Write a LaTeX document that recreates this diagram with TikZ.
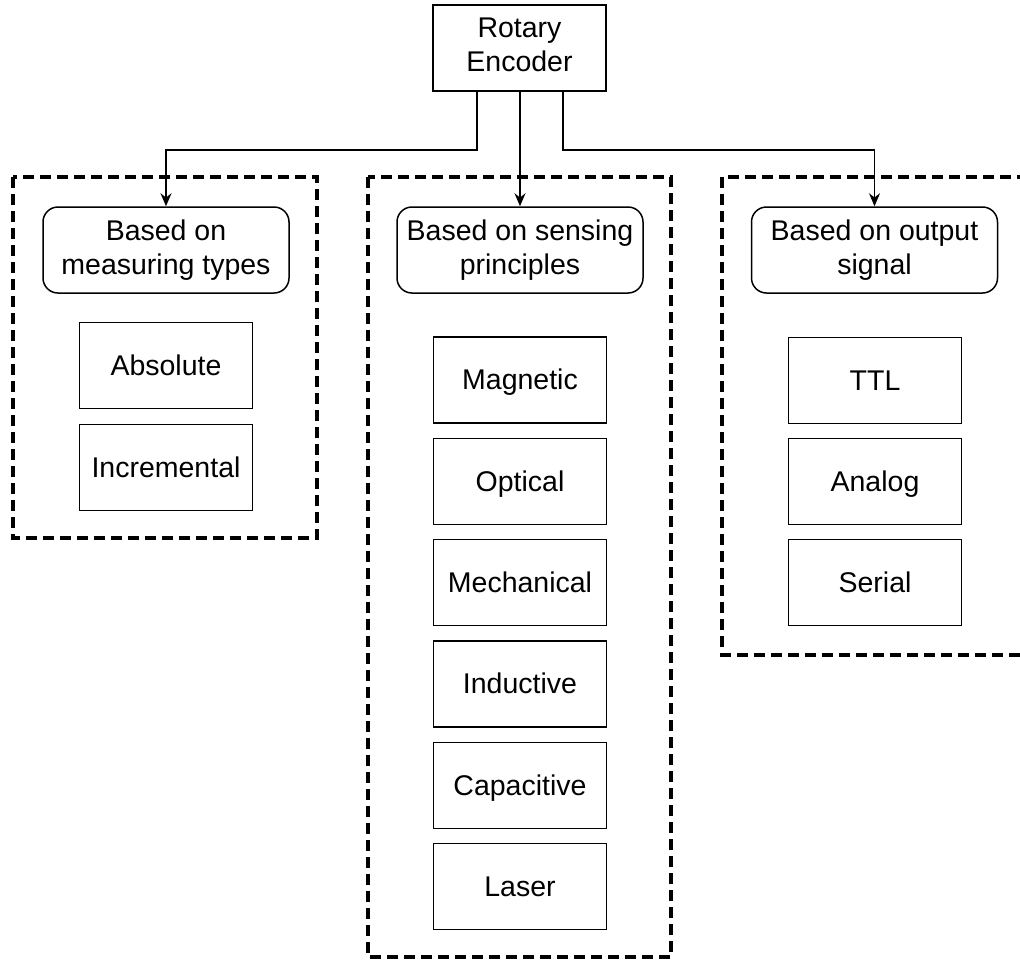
\documentclass[tikz,border=0pt]{standalone}
\usepackage{fontspec}
\setmainfont{Liberation Sans}
\usetikzlibrary{arrows.meta}
% strut giving each label line the ascent/descent of the font's line box
\newcommand{\labelstrut}{\rule[-6pt]{0pt}{31.8pt}}
\begin{document}
\begin{tikzpicture}[x=1pt,y=-1pt,
  every node/.style={font=\fontsize{28.5}{34}\selectfont, align=center, inner sep=0pt,
    execute at begin node=\labelstrut, execute at end node=\labelstrut},
  leaf/.style={draw, line width=1.5pt, minimum width=173pt, minimum height=86pt},
  category/.style={draw, line width=1.5pt, rounded corners=15pt, minimum width=246pt, minimum height=86pt},
  group/.style={draw, line width=3.3pt, dash pattern=on 11pt off 6pt},
  link/.style={line width=1.5pt, -{Stealth[length=13pt,width=11pt]}}]
\clip (0,0) rectangle (1020,959);
\fill[white] (0,0) rectangle (1020,959);

% dashed grouping frames
\draw[group] (13,177) rectangle (317,538);
\draw[group] (368,177) rectangle (671,957);
\draw[group] (722,177) rectangle (1060,655);

% root
\node[leaf] (enc) at (519.5,48) {Rotary\\Encoder};

% categories
\node[category] (meas) at (166,250) {Based on\\measuring types};
\node[category] (sens) at (520,250) {Based on sensing\\principles};
\node[category] (outp) at (874.5,250) {Based on output\\signal};

% measuring types
\node[leaf] (abs) at (166,365.5) {Absolute};
\node[leaf] (inc) at (166,467.5) {Incremental};

% sensing principles
\node[leaf] (mag) at (520,380) {Magnetic};
\node[leaf] (opt) at (520,481.5) {Optical};
\node[leaf] (mech) at (520,582.5) {Mechanical};
\node[leaf] (ind) at (520,684) {Inductive};
\node[leaf] (cap) at (520,785.5) {Capacitive};
\node[leaf] (las) at (520,886.5) {Laser};

% output signals
\node[leaf] (ttl) at (875,380.5) {TTL};
\node[leaf] (ana) at (875,481.5) {Analog};
\node[leaf] (ser) at (875,582.5) {Serial};

% connectors from the root
\draw[link] ([xshift=-42.5pt]enc.south) -- ++(0,58) -| (meas.north);
\draw[link] ([xshift=0.5pt]enc.south) -- (sens.north);
\draw[link] ([xshift=43.5pt]enc.south) -- ++(0,58) -| (outp.north);
\end{tikzpicture}
\end{document}
